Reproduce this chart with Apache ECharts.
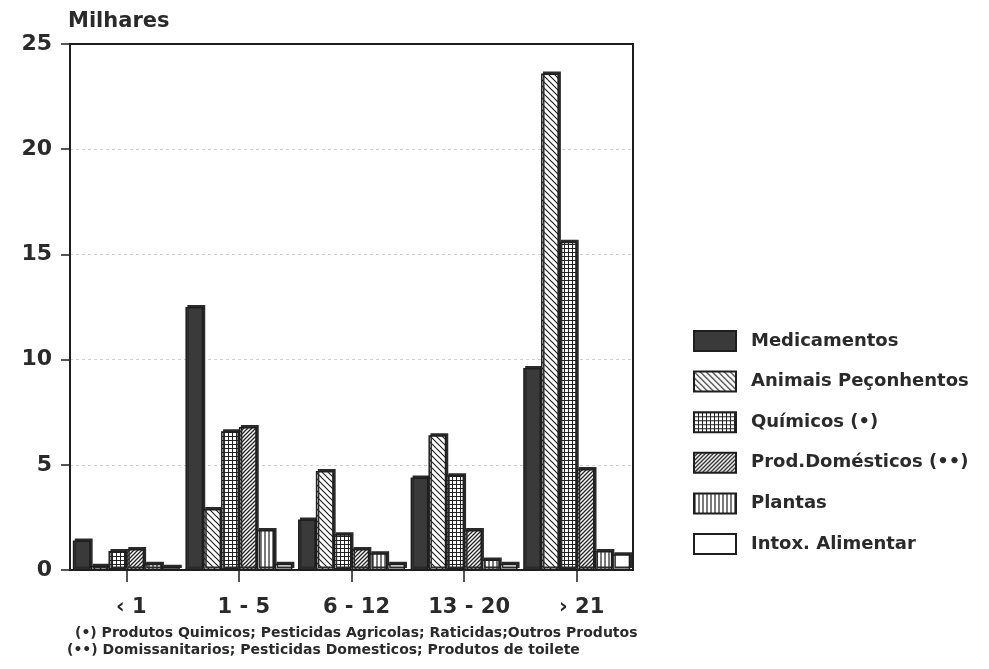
<!DOCTYPE html>
<html><head><meta charset="utf-8">
<script src="https://cdn.jsdelivr.net/npm/echarts@6/dist/echarts.min.js"></script>
<style>html,body{margin:0;padding:0;background:#fff;}#c{width:989px;height:669px;}</style>
</head><body><div id="c"></div>
<script>
var categories = ['\u2039 1', '1 - 5', '6 - 12', '13 - 20', '\u203A 21'];
var seriesNames = ['Medicamentos', 'Animais Peçonhentos', 'Químicos (•)', 'Prod.Domésticos (••)', 'Plantas', 'Intox. Alimentar'];
var medicamentos = [1.4, 12.5, 2.4, 4.4, 9.6];
var animais = [0.2, 2.9, 4.7, 6.4, 23.6];
var quimicos = [0.9, 6.6, 1.7, 4.5, 15.6];
var prodDomesticos = [1.0, 6.8, 1.0, 1.9, 4.8];
var plantas = [0.3, 1.9, 0.8, 0.5, 0.9];
var intoxAlimentar = [0.15, 0.3, 0.3, 0.3, 0.75];
var yTicks = [0, 5, 10, 15, 20, 25];
var footnote1 = '(•) Produtos Quimicos; Pesticidas Agricolas; Raticidas;Outros Produtos';
var footnote2 = '(••) Domissanitarios; Pesticidas Domesticos; Produtos de toilete';

function makePattern(kind) {
  var s = kind === 'fwd' ? 4 : (kind === 'back' ? 6 : 8);
  var c = document.createElement('canvas');
  c.width = s; c.height = s;
  var g = c.getContext('2d');
  g.fillStyle = '#fff'; g.fillRect(0, 0, s, s);
  g.strokeStyle = '#222'; g.lineWidth = 1.2;
  g.beginPath();
  var k;
  if (kind === 'back') {
    for (k = -1; k <= 1; k++) { g.moveTo(k * s - 1, -1); g.lineTo(k * s + s + 1, s + 1); }
  } else if (kind === 'grid') {
    g.lineWidth = 1;
    g.moveTo(0.5, 0); g.lineTo(0.5, s);
    g.moveTo(4.5, 0); g.lineTo(4.5, s);
    g.moveTo(0, 0.5); g.lineTo(s, 0.5);
    g.moveTo(0, 4.5); g.lineTo(s, 4.5);
  } else if (kind === 'fwd') {
    g.lineWidth = 1.3;
    for (k = -1; k <= 1; k++) { g.moveTo(k * s - 1, s + 1); g.lineTo(k * s + s + 1, -1); }
  } else if (kind === 'vert') {
    g.lineWidth = 1.2;
    g.moveTo(1, 0); g.lineTo(1, s);
    g.moveTo(5, 0); g.lineTo(5, s);
  }
  g.stroke();
  return { image: c, repeat: 'repeat' };
}

var fills = ['#3a3a3a', makePattern('back'), makePattern('grid'), makePattern('fwd'), makePattern('vert'), '#ffffff'];
var values = [medicamentos, animais, quimicos, prodDomesticos, plantas, intoxAlimentar];

var series = seriesNames.map(function (n, i) {
  return {
    name: n, type: 'bar', data: values[i],
    barGap: '0%', barCategoryGap: '5%',
    itemStyle: { color: fills[i], borderColor: '#1e1e1e', borderWidth: 1.5,
      shadowColor: '#2a2a2a', shadowBlur: 0, shadowOffsetX: 2, shadowOffsetY: -2 },
    emphasis: { disabled: true }
  };
});

var chart = echarts.init(document.getElementById('c'), null, { renderer: 'canvas' });
chart.setOption({
  animation: false,
  backgroundColor: '#fff',
  grid: { left: 70, right: 356, top: 44, bottom: 99, show: true, borderColor: '#1e1e1e', borderWidth: 2, containLabel: false },
  legend: {
    orient: 'vertical', left: 688, top: 325,
    itemWidth: 42, itemHeight: 20, itemGap: 18.6,
    icon: 'rect',
    textStyle: { fontFamily: 'DejaVu Sans', fontWeight: 'bold', fontSize: 18, color: '#2a2a2a', padding: [0, 0, 0, 10] },
    data: seriesNames, selectedMode: false
  },
  xAxis: {
    type: 'category', data: categories,
    axisLine: { show: true, lineStyle: { color: '#1e1e1e', width: 2 } },
    axisTick: { show: true, alignWithLabel: true, length: 12, inside: false, lineStyle: { color: '#1e1e1e', width: 1.5 } },
    axisLabel: { fontFamily: 'DejaVu Sans', fontWeight: 'bold', fontSize: 21, color: '#2a2a2a', margin: 27, padding: [0, 0, 0, 10] },
    splitLine: { show: false }
  },
  yAxis: {
    type: 'value', min: 0, max: 25, interval: 5,
    name: 'Milhares', nameLocation: 'end', nameGap: 12,
    nameTextStyle: { fontFamily: 'DejaVu Sans', fontWeight: 'bold', fontSize: 21, color: '#2a2a2a', align: 'left', padding: [0, 0, 0, -2] },
    axisLine: { show: true, lineStyle: { color: '#1e1e1e', width: 2 } },
    axisTick: { show: true, length: 9, lineStyle: { color: '#1e1e1e', width: 1.5 } },
    axisLabel: { fontFamily: 'DejaVu Sans', fontWeight: 'bold', fontSize: 22, color: '#2a2a2a', margin: 18,
      formatter: function (v) { return yTicks.indexOf(v) >= 0 ? String(v) : ''; } },
    splitLine: { show: true, showMinLine: false, showMaxLine: false, lineStyle: { color: '#c8d0d8', width: 1, type: [3, 3] } }
  },
  graphic: [
    { type: 'text', left: 75, top: 626, style: { text: footnote1, fontFamily: 'DejaVu Sans', fontWeight: 'bold', fontSize: 14, fill: '#2a2a2a' } },
    { type: 'text', left: 67, top: 643, style: { text: footnote2, fontFamily: 'DejaVu Sans', fontWeight: 'bold', fontSize: 14, fill: '#2a2a2a' } }
  ],
  series: series
});
</script></body></html>
